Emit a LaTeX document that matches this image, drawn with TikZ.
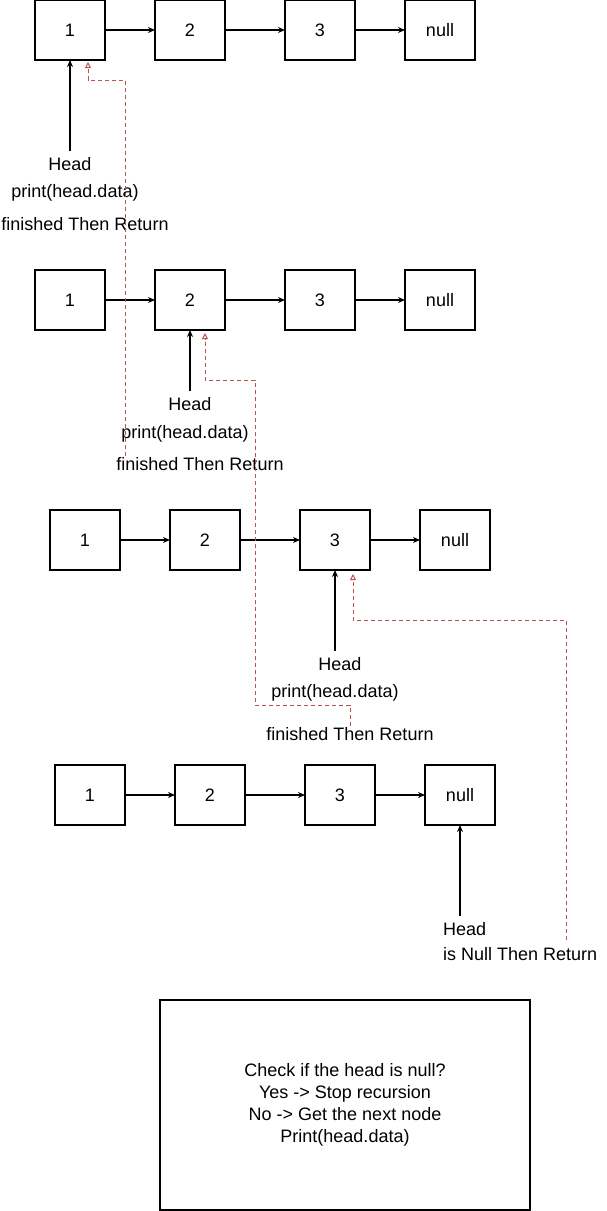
\documentclass[tikz,border=0pt]{standalone}
\usepackage{fontspec}
\setmainfont{Liberation Sans}
\usetikzlibrary{arrows.meta}
\usetikzlibrary{calc,positioning}

\definecolor{retred}{HTML}{B85450}

\tikzset{
  lnode/.style={draw, rectangle, minimum width=70pt, minimum height=60pt, inner sep=0pt, outer sep=0pt, line width=1.1pt},
  nxt/.style={-{Stealth[open,length=7pt,width=6pt]}, line width=1.1pt},
  ret/.style={-{Triangle[open,length=6pt,width=6pt]}, draw=retred, dash pattern=on 4pt off 3pt, line width=1pt},
  lbl/.style={inner sep=1pt}
}

\begin{document}
\begin{tikzpicture}[x=1pt, y=1pt, font=\fontsize{18}{22}\selectfont]
  \useasboundingbox (0,0) rectangle (606,-1211);

  % first call
  \node[lnode] (A1) at (70,-30) {1};
  \node[lnode, right=50pt of A1] (A2) {2};
  \node[lnode, right=60pt of A2] (A3) {3};
  \node[lnode, right=50pt of A3] (A4) {null};
  \draw[nxt] (A1) -- (A2);
  \draw[nxt] (A2) -- (A3);
  \draw[nxt] (A3) -- (A4);

  \node[lbl] (h1) at (70,-164) {Head};
  \node[lbl] (p1) at (75,-193) {print(head.data)};
  \node[lbl] (f1) at (85,-224) {finished Then Return};
  \draw[nxt, shorten <=5pt] (h1.north) -- (A1.south);

  % second call
  \node[lnode] (B1) at (70,-300) {1};
  \node[lnode, right=50pt of B1] (B2) {2};
  \node[lnode, right=60pt of B2] (B3) {3};
  \node[lnode, right=50pt of B3] (B4) {null};
  \draw[nxt] (B1) -- (B2);
  \draw[nxt] (B2) -- (B3);
  \draw[nxt] (B3) -- (B4);

  \node[lbl] (h2) at (190,-404) {Head};
  \node[lbl] (p2) at (185,-434) {print(head.data)};
  \node[lbl] (f2) at (200,-464) {finished Then Return};
  \draw[nxt, shorten <=5pt] (h2.north) -- (B2.south);

  % third call
  \node[lnode] (C1) at (85,-540) {1};
  \node[lnode, right=50pt of C1] (C2) {2};
  \node[lnode, right=60pt of C2] (C3) {3};
  \node[lnode, right=50pt of C3] (C4) {null};
  \draw[nxt] (C1) -- (C2);
  \draw[nxt] (C2) -- (C3);
  \draw[nxt] (C3) -- (C4);

  \node[lbl] (h3) at (340,-664) {Head};
  \node[lbl] (p3) at (335,-693) {print(head.data)};
  \node[lbl] (f3) at (350,-734) {finished Then Return};
  \draw[nxt, shorten <=5pt] (h3.north -| C3.south) -- (C3.south);

  % last call
  \node[lnode] (D1) at (90,-795) {1};
  \node[lnode, right=50pt of D1] (D2) {2};
  \node[lnode, right=60pt of D2] (D3) {3};
  \node[lnode, right=50pt of D3] (D4) {null};
  \draw[nxt] (D1) -- (D2);
  \draw[nxt] (D2) -- (D3);
  \draw[nxt] (D3) -- (D4);

  \node[lbl, anchor=west] (h4) at (442,-929) {Head};
  \node[lbl, anchor=west] (n4) at (442,-954) {is Null Then Return};
  \draw[nxt, shorten <=5pt] (h4.north -| D4.south) -- (D4.south);

  % returns
  \coordinate (t1) at ($(A1.south)+(18,-2)$);
  \coordinate (t2) at ($(B2.south)+(15,-3)$);
  \coordinate (t3) at ($(C3.south)+(18,-4)$);
  \coordinate (s4) at (566,-940);
  \draw[ret] (s4) |- ($(t3)+(0,-46)$) -- (t3);
  \draw[ret] (f3.north -| 350,0) |- (255,-705) |- ($(t2)+(0,-47)$) -- (t2);
  \draw[ret] (f2.north -| 125,0) |- ($(t1)+(0,-18)$) -- (t1);

  % summary
  \node[draw, line width=1.1pt, minimum width=370pt, minimum height=210pt, align=center] (note) at (345,-1105)
    {Check if the head is null?\\Yes -> Stop recursion\\No -> Get the next node\\Print(head.data)};
\end{tikzpicture}
\end{document}
